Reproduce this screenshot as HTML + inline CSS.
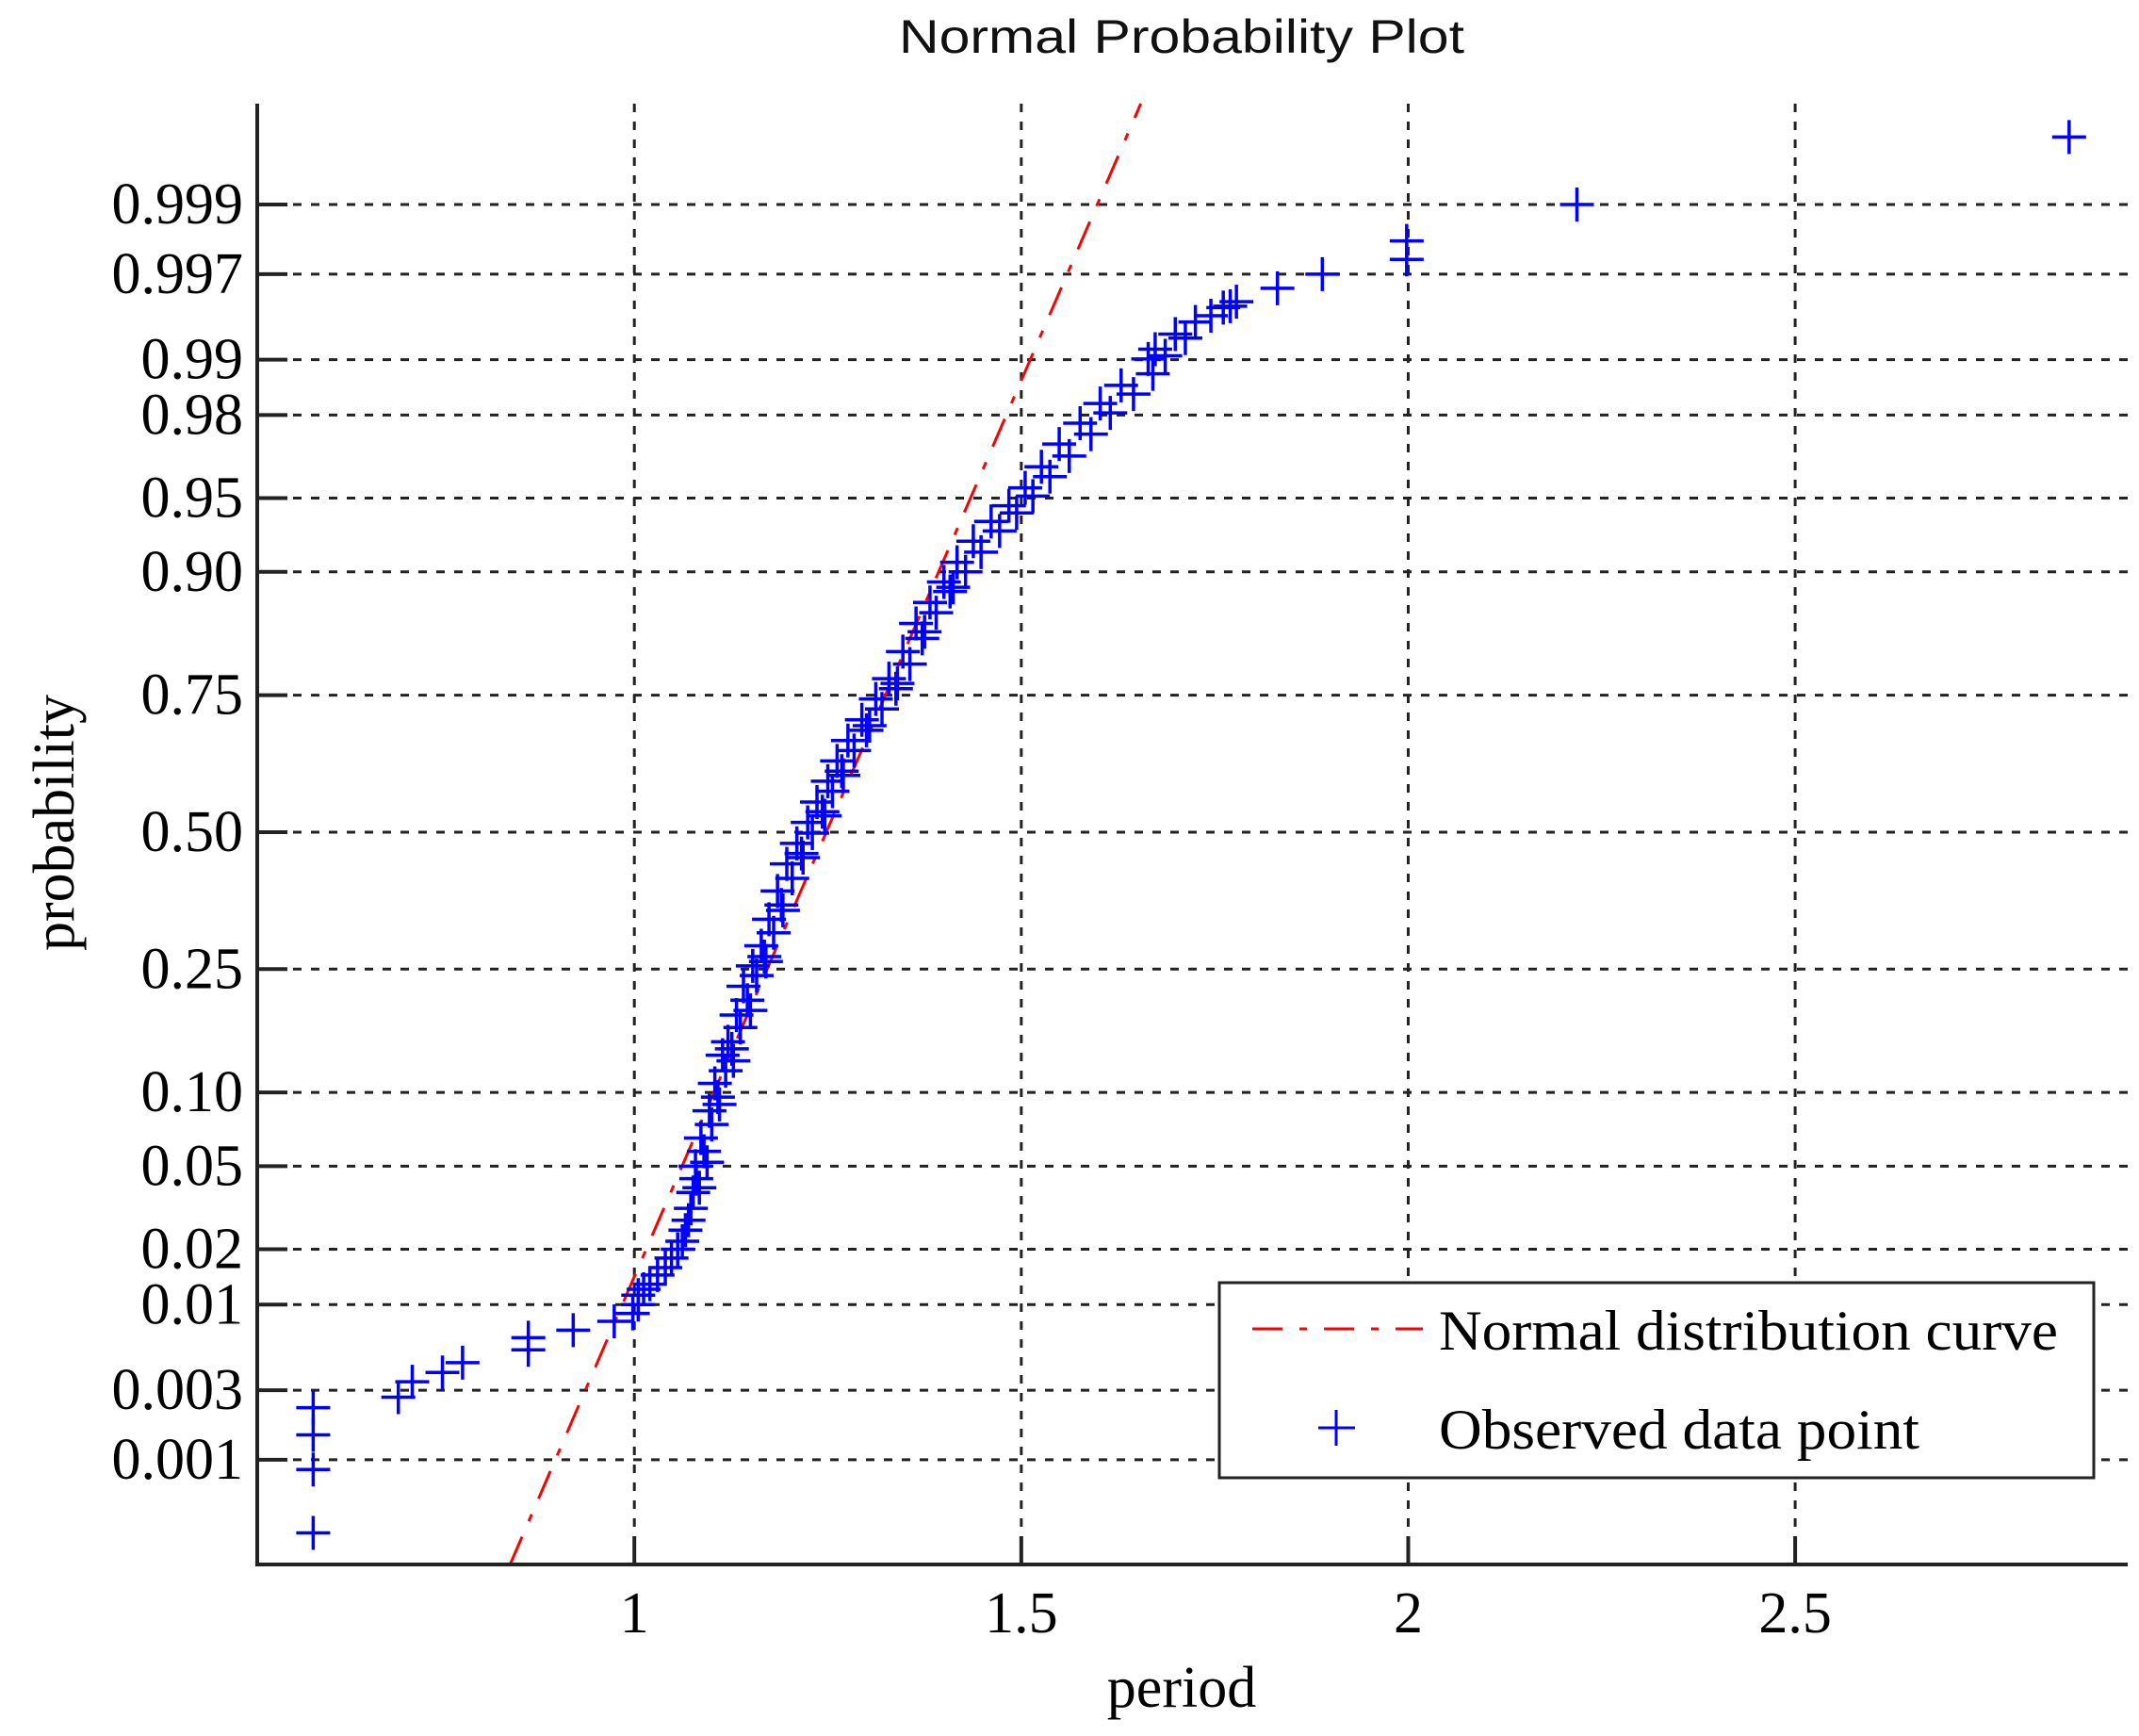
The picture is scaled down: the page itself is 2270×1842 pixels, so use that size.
<!DOCTYPE html>
<html><head><meta charset="utf-8"><style>
html,body{margin:0;padding:0;background:#fff;}
svg{display:block;}
</style></head><body>
<svg id="chart" width="2270" height="1842" viewBox="0 0 2270 1842" xmlns="http://www.w3.org/2000/svg">
<rect x="0" y="0" width="2270" height="1842" fill="#fff"/>
<text x="1254" y="56" text-anchor="middle" font-family="Liberation Sans, sans-serif" font-size="50" textLength="600" lengthAdjust="spacingAndGlyphs" fill="#111">Normal Probability Plot</text>
<g id="grid"></g>
<g id="fitline"></g>
<g id="points"></g>
<g id="axes"></g>
<text x="1254" y="1811" text-anchor="middle" font-family="Liberation Serif, serif" font-size="62" fill="#000">period</text>
<text x="0" y="0" transform="translate(78,873) rotate(-90)" text-anchor="middle" font-family="Liberation Serif, serif" font-size="62" fill="#000">probability</text>
<g>
<rect x="1294" y="1361" width="928" height="207" fill="#fff" stroke="#222" stroke-width="3"/>
<line x1="1329" y1="1410" x2="1510" y2="1410" stroke="#f00" stroke-width="3" stroke-dasharray="32,18,8,18"/>
<text x="1527" y="1432" font-family="Liberation Serif, serif" font-size="60" textLength="657" lengthAdjust="spacingAndGlyphs" fill="#000">Normal distribution curve</text>
<path d="M1399 1515 H1438 M1418 1496 V1534" stroke="#00f" stroke-width="3"/>
<text x="1527" y="1537" font-family="Liberation Serif, serif" font-size="60" textLength="510" lengthAdjust="spacingAndGlyphs" fill="#000">Observed data point</text>
</g>
</svg>
<script>
// ---- data ----
const xTicks = [1, 1.5, 2, 2.5];
const xTickLabels = ["1", "1.5", "2", "2.5"];
const yTicks = [0.001, 0.003, 0.01, 0.02, 0.05, 0.10, 0.25, 0.50, 0.75, 0.90, 0.95, 0.98, 0.99, 0.997, 0.999];
const yTickLabels = ["0.001", "0.003", "0.01", "0.02", "0.05", "0.10", "0.25", "0.50", "0.75", "0.90", "0.95", "0.98", "0.99", "0.997", "0.999"];
const obsX = [0.585,0.585,0.585,0.585,0.695,0.713,0.752,0.778,0.863,0.863,0.921,0.974,0.998,1.005,1.012,
1.030,1.048,1.062,1.070,1.076,1.079,1.086,1.097,1.104,1.114,1.121,1.132,1.141,1.153,1.164,1.174,1.185,1.197,
1.210,1.224,1.236,1.250,1.262,1.276,1.294,1.312,1.329,1.347,1.364,1.382,1.400,1.417,1.438,1.461,1.484,1.505,
1.526,1.549,1.576,1.602,1.629,1.664,1.673,1.699,1.725,1.761,1.778,1.831,1.889,1.998,1.998,2.218,2.854,
1.005,1.020,1.040,1.056,1.066,1.073,1.080,1.084,1.090,1.094,1.100,1.108,1.110,1.118,1.126,1.128,1.137,1.146,1.150,
1.158,1.168,1.170,1.180,1.190,1.192,1.204,1.216,1.218,1.230,1.243,1.246,1.256,1.268,1.270,1.284,1.300,1.304,1.320,
1.338,1.340,1.356,1.372,1.375,1.390,1.408,1.412,1.428,1.448,1.472,1.494,1.515,1.537,1.562,1.590,1.615,1.645,1.670,
1.686,1.712,1.745,1.770];
const obsP = [0.00028,0.00085,0.0015,0.0023,0.0027,0.0034,0.0039,0.0045,0.0054,0.0064,0.0071,0.0080,0.0089,0.0113,0.0122,
0.0146,0.018,0.022,0.028,0.038,0.050,0.066,0.085,0.108,0.136,0.151,0.184,0.224,0.255,0.288,0.334,0.386,0.438,
0.478,0.519,0.559,0.599,0.637,0.674,0.710,0.744,0.775,0.813,0.848,0.871,0.891,0.908,0.924,0.937,0.946,0.955,
0.964,0.972,0.978,0.9826,0.9861,0.9901,0.9913,0.9929,0.9940,0.9951,0.9955,0.9963,0.9970,0.9976,0.9982,0.9990,0.99969,
0.0100,0.0130,0.016,0.020,0.025,0.032,0.044,0.040,0.058,0.052,0.075,0.096,0.090,0.120,0.143,0.130,0.168,0.204,0.190,
0.240,0.270,0.262,0.310,0.360,0.350,0.410,0.458,0.450,0.498,0.540,0.532,0.580,0.618,0.610,0.656,0.692,0.700,0.728,
0.760,0.768,0.796,0.830,0.838,0.860,0.882,0.886,0.900,0.916,0.931,0.942,0.951,0.960,0.968,0.975,0.9805,0.9845,0.9880,
0.9905,0.9925,0.9945,0.9952];
const fitMu = [1.248];
const fitSigma = [0.1133];

// ---- layout ----
const L = 273, R = 2258, T = 110, B = 1660;
const X0 = 0.5127, X1 = 2.9297;
const Z0 = -3.606, Z1 = 3.587;
const NS = "http://www.w3.org/2000/svg";
function erfinvApprox(p){ // inverse normal CDF (Acklam)
  const a=[-39.69683028665376,220.9460984245205,-275.9285104469687,138.3577518672690,-30.66479806614716,2.506628277459239];
  const b=[-54.47609879822406,161.5858368580409,-155.6989798598866,66.80131188771972,-13.28068155288572];
  const c=[-0.007784894002430293,-0.3223964580411365,-2.400758277161838,-2.549732539343734,4.374664141464968,2.938163982698783];
  const d=[0.007784695709041462,0.3224671290700398,2.445134137142996,3.754408661907416];
  const pl=0.02425;
  let q,r;
  if(p<pl){q=Math.sqrt(-2*Math.log(p));return (((((c[0]*q+c[1])*q+c[2])*q+c[3])*q+c[4])*q+c[5])/((((d[0]*q+d[1])*q+d[2])*q+d[3])*q+1);}
  if(p>1-pl){q=Math.sqrt(-2*Math.log(1-p));return -(((((c[0]*q+c[1])*q+c[2])*q+c[3])*q+c[4])*q+c[5])/((((d[0]*q+d[1])*q+d[2])*q+d[3])*q+1);}
  q=p-0.5;r=q*q;return (((((a[0]*r+a[1])*r+a[2])*r+a[3])*r+a[4])*r+a[5])*q/(((((b[0]*r+b[1])*r+b[2])*r+b[3])*r+b[4])*r+1);
}
function xs(v){ return L + (v - X0) / (X1 - X0) * (R - L); }
function zs(z){ return B - (z - Z0) / (Z1 - Z0) * (B - T); }
function ys(p){ return zs(erfinvApprox(p)); }
function mk(tag, attrs, parent){
  const e = document.createElementNS(NS, tag);
  for (const k in attrs) e.setAttribute(k, attrs[k]);
  parent.appendChild(e); return e;
}
const grid = document.getElementById('grid');
const axes = document.getElementById('axes');
const pts = document.getElementById('points');
const fit = document.getElementById('fitline');

xTicks.forEach((v, i) => {
  const x = xs(v);
  const g = mk('line', {x1:x, y1:T, x2:x, y2:B, stroke:'#222', 'stroke-width':3, 'stroke-dasharray':'9,10'}, grid);
  
  
  const t = mk('line', {x1:x, y1:B, x2:x, y2:B-30, stroke:'#222', 'stroke-width':4}, axes);
  
  
  const lb = mk('text', {x:x, y:1732, 'text-anchor':'middle', 'font-family':'Liberation Serif, serif', 'font-size':62, fill:'#000'}, axes);
  lb.textContent = xTickLabels[i];
  
  
});
yTicks.forEach((p, i) => {
  const y = ys(p);
  const g = mk('line', {x1:L, y1:y, x2:R, y2:y, stroke:'#222', 'stroke-width':3, 'stroke-dasharray':'9,10'}, grid);
  
  
  const t = mk('line', {x1:L, y1:y, x2:L+32, y2:y, stroke:'#222', 'stroke-width':4}, axes);
  
  
  const lb = mk('text', {x:258, y:y+20, 'text-anchor':'end', 'font-family':'Liberation Serif, serif', 'font-size':62, fill:'#000'}, axes);
  lb.textContent = yTickLabels[i];
  
  
});
const ax = mk('path', {d:`M${L} ${T} V${B} H${R}`, fill:'none', stroke:'#222', 'stroke-width':4}, axes);



// fitted normal line, clipped to plot area
const mu = fitMu[0], sg = fitSigma[0];
const xa = mu + Z0 * sg, xb = mu + Z1 * sg;
const fl = mk('line', {x1:xs(xa), y1:zs(Z0), x2:xs(xb), y2:zs(Z1), stroke:'#f00', 'stroke-width':3, 'stroke-dasharray':'32,18,8,18'}, fit);



obsX.forEach((v, i) => {
  const x = xs(v), y = ys(obsP[i]), h = 18;
  const m = mk('path', {d:`M${x-h} ${y} H${x+h} M${x} ${y-h} V${y+h}`, stroke:'#00f', 'stroke-width':3.5, fill:'none'}, pts);
  
  
});
</script>
</body></html>
